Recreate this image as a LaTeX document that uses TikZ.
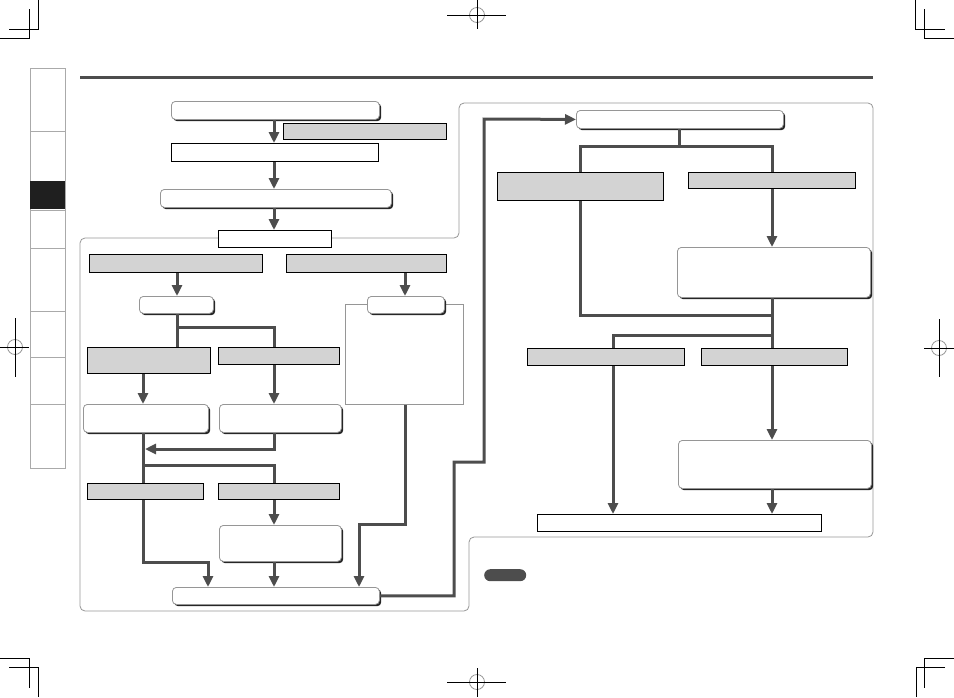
\documentclass[tikz,border=0pt]{standalone}
\usetikzlibrary{arrows.meta,shadows}
\definecolor{conncol}{RGB}{77,77,77}
\definecolor{grayfill}{RGB}{211,211,211}
\definecolor{framecol}{RGB}{150,150,150}
\definecolor{tabcol}{RGB}{170,170,170}
\newcommand\bx[6]{\pgfmathsetmacro\myBW{#5-#3}\pgfmathsetmacro\myBH{#6-#4}%
  \node[#1,minimum width=\myBW pt,minimum height=\myBH pt,anchor=north west] (#2) at (#3,#4) {};}
\tikzset{
  gbox/.style={draw=black,line width=1pt,fill=grayfill,inner sep=0pt},
  wbox/.style={draw=black,line width=1pt,fill=white,inner sep=0pt},
  rbox/.style={draw=framecol,line width=0.8pt,fill=white,rounded corners=4pt,inner sep=0pt,
    general shadow={shadow xshift=1.8pt,shadow yshift=-1.8pt,fill=black!85}},
  tbox/.style={draw=framecol,line width=0.8pt,fill=white,inner sep=0pt},
  pillbox/.style={fill=conncol,rounded corners=6pt,inner sep=0pt},
  conn/.style={draw=conncol,line width=3pt},
  arr/.style={conn,-{Triangle[width=10pt,length=11pt]}},
  crop/.style={draw=black,line width=1pt},
  regc/.style={draw=framecol,line width=0.8pt}
}
\begin{document}
\begin{tikzpicture}[x=1pt,y=-1pt]
\useasboundingbox (0,0) rectangle (954,697);
% crop marks
\draw[crop] (38,0) -- (38,29) -- (9,29);
\draw[crop] (29,9) -- (29,38) -- (0,38);
\draw[crop] (915,0) -- (915,29) -- (945,29);
\draw[crop] (924,9) -- (924,38) -- (954,38);
\draw[crop] (0,658) -- (29,658) -- (29,688);
\draw[crop] (9,667) -- (38,667) -- (38,697);
\draw[crop] (954,658) -- (924,658) -- (924,688);
\draw[crop] (945,667) -- (916,667) -- (916,697);
% registration marks
\draw[regc] (477,15) circle (7.5);
\draw[crop] (447,15) -- (506,15) (477,0) -- (477,29);
\draw[regc] (477,682) circle (7.5);
\draw[crop] (447,682) -- (506,682) (477,668) -- (477,697);
\draw[regc] (15,347) circle (7.5);
\draw[crop] (0,347) -- (29,347) (15,318) -- (15,377);
\draw[regc] (939,348) circle (7.5);
\draw[crop] (924,348) -- (954,348) (939,319) -- (939,377);
% side tabs
\draw[tabcol,line width=1pt] (30,68) rectangle (65,468);
\foreach \yy in {131,248,311,357,404} \draw[tabcol,line width=1pt] (30,\yy) -- (65,\yy);
\fill[black!88] (30,181) rectangle (65,209);
\draw[tabcol,line width=1pt] (30,210) -- (65,210);
% header rule
\draw[conncol,line width=3pt] (80,77) -- (873,77);
% frame
\draw[framecol,line width=0.8pt,rounded corners=5pt]
  (80,238) -- (459,238) -- (459,103) -- (873,103) -- (873,537) -- (469,537) -- (469,611) -- (80,611) -- cycle;
% nodes
\bx{rbox}{r1}{171}{101}{379}{119}
\bx{gbox}{g1}{283}{123}{446}{139}
\bx{wbox}{w1}{171}{143}{378}{161}
\bx{rbox}{r2}{160}{189}{391}{207}
\bx{wbox}{w2}{218}{230}{331}{247}
\bx{gbox}{gA}{89}{254}{262}{272}
\bx{gbox}{gB}{286}{254}{446}{272}
\bx{tbox}{fD}{345}{304}{463}{404}
\bx{rbox}{rC}{139}{296}{213}{313}
\bx{rbox}{rD}{367}{296}{444}{313}
\bx{gbox}{gE}{87}{347}{210}{373}
\bx{gbox}{gF}{218}{347}{339}{364}
\bx{rbox}{rG}{83}{404}{208}{432}
\bx{rbox}{rH}{219}{404}{341}{432}
\bx{gbox}{gI}{87}{483}{203}{499}
\bx{gbox}{gJ}{218}{483}{339}{499}
\bx{rbox}{rK}{219}{525}{341}{561}
\bx{rbox}{rL}{172}{587}{379}{604}
\bx{rbox}{rM}{576}{110}{783}{128}
\bx{gbox}{gN}{497}{172}{663}{200}
\bx{gbox}{gO}{688}{172}{855}{188}
\bx{rbox}{rP}{677}{247}{870}{297}
\bx{gbox}{gQ}{527}{348}{684}{365}
\bx{gbox}{gR}{701}{348}{847}{365}
\bx{rbox}{rS}{678}{440}{871}{488}
\bx{wbox}{wT}{537}{514}{821}{531}
\bx{pillbox}{pill}{484}{569}{526}{581}
% track coordinates
\coordinate (xa) at (274,0);
\coordinate (xC) at (177,0);
\coordinate (xE) at (143,0);
\coordinate (xD) at (405,0);
\coordinate (xO) at (772,0);
\coordinate (xQ) at (613,0);
\coordinate (b1) at (177,327);
\coordinate (b2) at (145,449);
\coordinate (b3) at (143,465);
\coordinate (b4) at (208,562);
\coordinate (b5) at (359,524);
\coordinate (k1) at (454,462);
\coordinate (k2) at (484,119);
\coordinate (h1) at (679,146);
\coordinate (m1) at (772,315);
\coordinate (m2) at (772,335);
% connectors left
\draw[arr] (r1.south -| xa) -- (w1.north -| xa);
\draw[arr] (w1.south -| xa) -- (r2.north -| xa);
\draw[arr] (r2.south -| xa) -- (w2.north -| xa);
\draw[arr] (gA.south -| xC) -- (rC.north -| xC);
\draw[arr] (gB.south -| xD) -- (rD.north -| xD);
\draw[conn] (rC.south -| xC) -- (gE.north -| xC);
\draw[conn] (b1) -| (gF.north -| xa);
\draw[arr] (gE.south -| xE) -- (rG.north -| xE);
\draw[arr] (gF.south -| xa) -- (rH.north -| xa);
\draw[arr] (rH.south -| xa) |- (b2);
\draw[conn] (rG.south -| xE) -- (gI.north -| xE);
\draw[conn] (b3) -| (gJ.north -| xa);
\draw[arr] (gI.south -| xE) |- (b4) -- (rL.north -| b4);
\draw[arr] (gJ.south -| xa) -- (rK.north -| xa);
\draw[arr] (rK.south -| xa) -- (rL.north -| xa);
\draw[arr] (fD.south -| xD) |- (b5) -- (rL.north -| b5);
\draw[arr] (rL.east) -| (k1) -| (k2) -- (rM.west);
% connectors right
\draw[conn] (rM.south -| h1) -- (h1);
\draw[conn] (gN.north) |- (h1) -| (gO.north -| xO);
\draw[arr] (gO.south -| xO) -- (rP.north -| xO);
\draw[conn] (gN.south) |- (m1);
\draw[conn] (rP.south -| xO) -- (gR.north -| xO);
\draw[conn] (m2) -| (gQ.north -| xQ);
\draw[arr] (gQ.south -| xQ) -- (wT.north -| xQ);
\draw[arr] (gR.south -| xO) -- (rS.north -| xO);
\draw[arr] (rS.south -| xO) -- (wT.north -| xO);
\end{tikzpicture}
\end{document}
